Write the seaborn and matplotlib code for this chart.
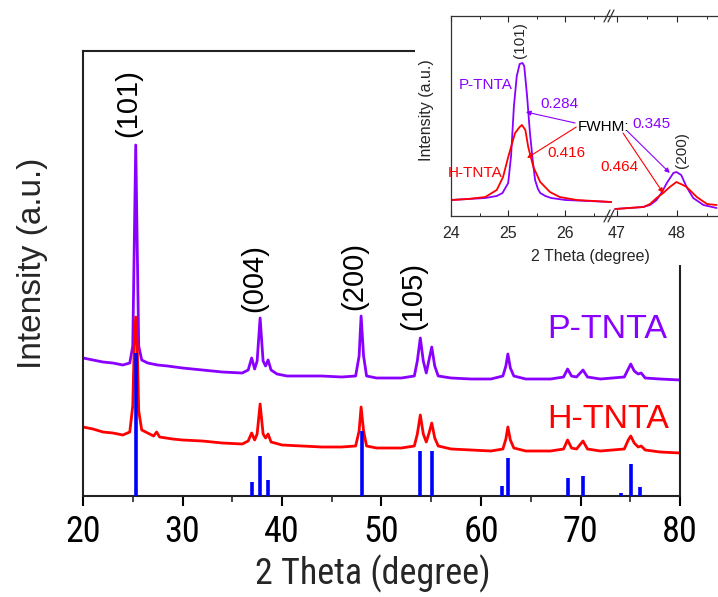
import matplotlib
matplotlib.use("Agg")
import matplotlib.pyplot as plt
from matplotlib import font_manager
from matplotlib.patches import Rectangle
from matplotlib.lines import Line2D
from matplotlib.ticker import MultipleLocator
import seaborn as sns

# ---------------- data ----------------
p_tth = [20.0, 21.0, 22.0, 23.0, 24.0, 24.7, 25.0, 25.15, 25.3, 25.45, 25.6, 25.9, 26.5, 27.5, 28.5,
         30, 32, 34, 36, 36.6, 36.95, 37.25, 37.5, 37.8, 38.1, 38.35, 38.6, 38.9, 39.5, 40.5, 42,
         44, 46, 47.4, 47.75, 47.95, 48.2, 48.5, 49.5, 52, 53.3, 53.6, 53.9, 54.2, 54.5, 54.75,
         55.05, 55.35, 55.7, 57, 59, 61, 62.2, 62.5, 62.7, 62.95, 63.3, 64.5, 67, 68.3, 68.7,
         69.1, 69.6, 70.25, 70.7, 72, 74.4, 74.8, 75.05, 75.4, 75.8, 76.1, 76.5, 78, 80]
p_int = [138, 136, 134, 133, 131, 133, 150, 250, 351, 250, 150, 136, 133, 131, 130,
         128, 126, 124, 123, 126, 138, 127, 135, 178, 135, 130, 136, 126, 122, 120, 120,
         120, 119, 120, 140, 180, 140, 120, 118, 118, 120, 135, 158, 135, 123, 135,
         149, 130, 120, 118, 117, 117, 120, 130, 142, 128, 120, 117, 117, 119, 127,
         120, 119, 126, 119, 117, 119, 127, 132, 125, 122, 123, 118, 117, 116]

h_tth = [20.0, 21.0, 22.0, 23.0, 24.0, 24.7, 25.0, 25.15, 25.3, 25.45, 25.6, 25.9, 26.5, 27.1, 27.4,
         27.7, 29, 30, 32, 34, 36, 36.6, 36.95, 37.25, 37.5, 37.8, 38.1, 38.35, 38.6, 38.9, 40,
         42, 44, 46, 47.4, 47.75, 47.95, 48.2, 48.5, 49.5, 52, 53.3, 53.6, 53.9, 54.2, 54.5,
         54.75, 55.05, 55.35, 55.7, 57, 59, 61, 62.2, 62.5, 62.7, 62.95, 63.3, 64.5, 67, 68.3,
         68.7, 69.1, 69.6, 70.25, 70.7, 72, 74.4, 74.8, 75.05, 75.4, 75.8, 76.1, 76.5, 78, 80]
h_int = [69, 67, 64, 63, 61, 64, 90, 150, 179, 150, 85, 66, 63, 60, 64,
         59, 57, 56, 55, 53, 52, 55, 63, 56, 62, 92, 62, 58, 62, 54, 51,
         50, 49, 49, 50, 65, 89, 65, 50, 48, 48, 50, 62, 81, 62, 54,
         62, 73, 58, 50, 47, 46, 45, 47, 57, 69, 56, 48, 45, 45, 47,
         56, 48, 47, 55, 47, 45, 47, 56, 60, 53, 49, 50, 46, 44, 43]

ref_tth = [25.3, 36.95, 37.8, 38.6, 48.05, 53.9, 55.05, 62.1, 62.7, 68.75, 70.3, 74.05, 75.05, 76.0]
ref_int = [143, 14, 40, 16, 65, 45, 45, 10, 38, 18, 20, 3, 32, 9]

hkl_labels = ["(101)", "(004)", "(200)", "(105)"]
hkl_x = [24.5, 37.2, 47.3, 53.2]
hkl_y = [359, 184, 186, 166]

xticks_main = [20, 30, 40, 50, 60, 70, 80]

# inset, left segment (around 25.3 deg)
inL_p_tth = [24.0, 24.3, 24.6, 24.8, 24.9, 25.0, 25.05, 25.1, 25.15, 25.2, 25.25, 25.28, 25.33,
             25.38, 25.43, 25.47, 25.52, 25.56, 25.65, 25.75, 26.0, 26.4, 26.8]
inL_p_int = [16, 17, 18, 20, 23, 33, 60, 110, 140, 152, 153, 150, 120,
             83, 55, 36, 27, 23, 20, 18, 16, 15, 14]
inL_h_tth = [24.0, 24.3, 24.6, 24.8, 24.91, 25.0, 25.05, 25.12, 25.2, 25.24, 25.3, 25.35, 25.44,
             25.56, 25.73, 25.9, 26.2, 26.5, 26.8]
inL_h_int = [16, 17, 19, 26, 39, 59, 69, 83, 89, 91, 86, 69, 49,
             34, 24, 19, 16, 15, 14]
# inset, right segment (around 48 deg)
inR_p_tth = [46.97, 47.2, 47.44, 47.55, 47.66, 47.75, 47.83, 47.94, 47.99, 48.07, 48.16, 48.27,
             48.44, 48.66]
inR_p_int = [7, 8, 9, 11, 16, 24, 33, 43, 44, 41, 29, 18, 11, 8]
inR_h_tth = [46.97, 47.2, 47.44, 47.55, 47.66, 47.77, 47.88, 47.99, 48.1, 48.16, 48.33, 48.5, 48.66]
inR_h_int = [7, 8, 9, 12, 18, 23, 29, 34, 31, 29, 19, 12, 11]

# ---------------- style ----------------
sns.set_theme(style="white")
plt.rcParams["font.family"] = ["Liberation Sans", "DejaVu Sans"]
plt.rcParams["axes.linewidth"] = 1.5

narrow = ["Liberation Sans", "DejaVu Sans"]
for cand in ("Liberation Sans Narrow", "Arial Narrow", "Roboto Condensed"):
    try:
        font_manager.findfont(cand, fallback_to_default=False)
        narrow = [cand, "Liberation Sans", "DejaVu Sans"]
        break
    except Exception:
        pass
is_narrow = narrow[0] != "Liberation Sans"

PURPLE = "#8a00ff"
RED = "#ff0000"
BLUE = "#0000ff"

W, H = 718, 597
fig = plt.figure(figsize=(W / 100, H / 100), dpi=100)


def fx(px):
    return px / W


def fy(py):
    return 1 - py / H


# ---------------- main axes ----------------
ax = fig.add_axes([fx(83), fy(496), fx(680) - fx(83), fy(51) - fy(496)])
ax.set_facecolor("white")
sns.lineplot(x=p_tth, y=p_int, sort=False, estimator=None, color=PURPLE, lw=2.0, ax=ax)
sns.lineplot(x=h_tth, y=h_int, sort=False, estimator=None, color=RED, lw=2.0, ax=ax)
ax.vlines(ref_tth, 0, ref_int, color=BLUE, lw=2.6, zorder=4)

ax.set_xlim(20, 80)
ax.set_ylim(0, 445)
ax.set_xticks(xticks_main)
ax.xaxis.set_minor_locator(MultipleLocator(5))
ax.set_yticks([])
ax.tick_params(axis="x", which="major", direction="out", length=7, width=1.5, pad=6,
               labelsize=(26 if is_narrow else 23.5), bottom=True, colors="black")
ax.tick_params(axis="x", which="minor", direction="out", length=4, width=1.2, bottom=True)
for lab in ax.get_xticklabels():
    lab.set_fontfamily(narrow)
for s in ax.spines.values():
    s.set_color("#222222")
    s.set_linewidth(1.5)

ax.set_xlabel("2 Theta (degree)", fontsize=(26 if is_narrow else 24.5), family=narrow)
ax.xaxis.set_label_coords((373 - 83) / 597, (496 - 555) / 445)
ax.xaxis.label.set_va("top")
ax.set_ylabel("Intensity (a.u.)", fontsize=24)
ax.yaxis.set_label_coords((48 - 83) / 597, (496 - 263) / 445)

for t, x, y in zip(hkl_labels, hkl_x, hkl_y):
    ax.text(x, y, t, rotation=90, ha="center", va="bottom", fontsize=21, color="black")

ax.text(78.7, 158, "P-TNTA", color=PURPLE, fontsize=24.5, ha="right", va="baseline")
ax.text(78.9, 68, "H-TNTA", color=RED, fontsize=24.5, ha="right", va="baseline")

# white area behind the inset
fig.patches.append(Rectangle((fx(415), fy(265)), 1 - fx(415), 1 - fy(265),
                             transform=fig.transFigure, facecolor="white",
                             edgecolor="none", zorder=1))

# ---------------- inset axes (broken x axis) ----------------
bot, top = fy(216), fy(16)
axL = fig.add_axes([fx(451), bot, fx(612) - fx(451), top - bot])
axR = fig.add_axes([fx(612), bot, 1 - fx(612), top - bot])
for a in (axL, axR):
    a.set_zorder(2)
    a.set_facecolor("none")
    a.set_ylim(0, 200)
    a.set_yticks([])
    a.xaxis.set_minor_locator(MultipleLocator(0.5))
    a.tick_params(axis="x", which="major", direction="in", length=4, width=0.8,
                  labelsize=11.5, pad=7, bottom=True, top=True)
    a.tick_params(axis="x", which="minor", direction="in", length=2.5, width=0.7,
                  bottom=True, top=True)
    for s in a.spines.values():
        s.set_linewidth(0.9)
        s.set_color("#333333")

sns.lineplot(x=inL_p_tth, y=inL_p_int, sort=False, estimator=None, color=PURPLE, lw=1.3, ax=axL)
sns.lineplot(x=inL_h_tth, y=inL_h_int, sort=False, estimator=None, color=RED, lw=1.3, ax=axL)
sns.lineplot(x=inR_p_tth, y=inR_p_int, sort=False, estimator=None, color=PURPLE, lw=1.3, ax=axR)
sns.lineplot(x=inR_h_tth, y=inR_h_int, sort=False, estimator=None, color=RED, lw=1.3, ax=axR)

axL.set_xlim(24, 24 + 161 / 57.2)
axL.set_xticks([24, 25, 26])
axR.set_xlim(47 - 5 / 60, 47 + 101 / 60)
axR.set_xticks([47, 48])
axL.spines["right"].set_visible(False)
axR.spines["left"].set_visible(False)
axR.spines["right"].set_visible(False)

axL.text((590 - 451) / 161, (216 - 257) / 200, "2 Theta (degree)", transform=axL.transAxes,
         ha="center", va="center", fontsize=11.5, clip_on=False)
axL.text((427 - 451) / 161, (216 - 110) / 200, "Intensity (a.u.)", transform=axL.transAxes,
         rotation=90, ha="center", va="center", fontsize=11.5, clip_on=False)

# break marks
for yy in (16, 216):
    for dx in (-3, 1):
        fig.add_artist(Line2D([fx(607 + dx), fx(613 + dx)], [fy(yy + 6), fy(yy - 6)],
                              color="#333333", lw=0.9, zorder=5))

# inset annotations
axL.text(25.2, 176, "(101)", rotation=90, ha="center", va="center", fontsize=11)
axL.text(25.08, 131, "P-TNTA", color=PURPLE, ha="right", va="center", fontsize=11)
axL.text(24.9, 43, "H-TNTA", color=RED, ha="right", va="center", fontsize=11)
axL.text(25.57, 112, "0.284", color=PURPLE, ha="left", va="center", fontsize=11)
axL.text(25.68, 63, "0.416", color=RED, ha="left", va="center", fontsize=11)
axL.text(26.22, 89, "FWHM:", color="black", ha="left", va="center", fontsize=11, clip_on=False)
axR.text(47.25, 92, "0.345", color=PURPLE, ha="left", va="center", fontsize=11)
axR.text(47.35, 49, "0.464", color=RED, ha="right", va="center", fontsize=11, clip_on=False)
axR.text(48.08, 66, "(200)", rotation=90, ha="center", va="center", fontsize=11)

arrow_kw = dict(arrowstyle="-|>", lw=0.8, mutation_scale=7, shrinkA=0, shrinkB=0)
axL.annotate("", xy=(25.31, 104), xytext=(26.17, 93),
             arrowprops=dict(color=PURPLE, **arrow_kw))
axL.annotate("", xy=(25.33, 58), xytext=(26.19, 89),
             arrowprops=dict(color=RED, **arrow_kw))
axR.annotate("", xy=(47.88, 43), xytext=(47.17, 85),
             arrowprops=dict(color=PURPLE, **arrow_kw))
axR.annotate("", xy=(47.77, 23), xytext=(47.1, 83),
             arrowprops=dict(color=RED, **arrow_kw))

fig.savefig("out.png", dpi=100, facecolor="white")
